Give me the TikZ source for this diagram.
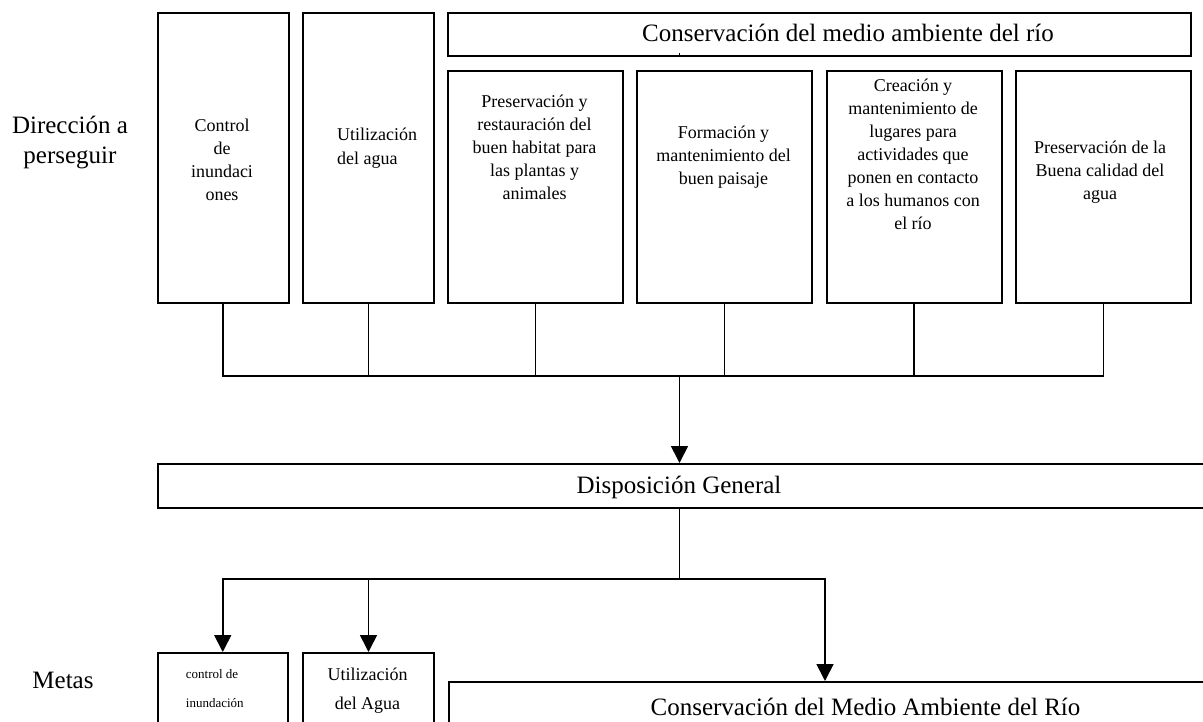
\documentclass[tikz,border=0pt]{standalone}
\usepackage{fontspec}
\setmainfont{Liberation Serif}
\usetikzlibrary{arrows.meta}

\begin{document}
\begin{tikzpicture}[x=1pt,y=-1pt,
  box/.style={draw,line width=2pt,rectangle,inner sep=0pt,anchor=north west},
  conn/.style={line width=1.7pt,line join=miter},
  arr/.style={conn,-{Triangle[width=17pt,length=17pt]}},
  boxtext/.style={inner sep=0pt,align=center,font=\fontsize{18}{23}\selectfont,
    execute at begin node=\strut,execute at end node=\strut},
  big/.style={inner sep=0pt,font=\fontsize{25}{30}\selectfont},
]
\useasboundingbox (0,0) rectangle (1203,722);
\clip (0,0) rectangle (1203,722);

% upper row: directions to pursue
\node[box,minimum width=131pt,minimum height=290.5pt] (ctrl) at (156.5,12) {};
\node[box,minimum width=131pt,minimum height=290.5pt] (agua) at (302,12) {};
\node[box,minimum width=743pt,minimum height=43pt] (banner) at (447,12) {};
\node[box,minimum width=175pt,minimum height=232.5pt] (pres) at (447,70) {};
\node[box,minimum width=175pt,minimum height=232.5pt] (form) at (636,70) {};
\node[box,minimum width=175pt,minimum height=232.5pt] (crea) at (825.5,70) {};
\node[box,minimum width=175pt,minimum height=232.5pt] (cal) at (1015,70) {};

% general arrangement
\node[box,minimum width=1060pt,minimum height=43.5pt] (disp) at (156.5,463) {};

% lower row: goals
\node[box,minimum width=130.5pt,minimum height=100pt] (mctrl) at (156.5,652) {};
\node[box,minimum width=131pt,minimum height=100pt] (magua) at (302,652) {};
\node[box,minimum width=836pt,minimum height=80pt] (mcons) at (447.5,681) {};

% collecting bus under the upper row
\coordinate (bus) at (679.5,376);
\draw[conn] (ctrl.south) -- (ctrl.south |- bus) -- (cal.south |- bus) -- (cal.south);
\foreach \b in {agua,pres,form,crea}
  \draw[conn] (\b.south) -- (\b.south |- bus);
\draw[arr] (bus) -- (bus |- disp.north);
\draw[conn] (banner.south -| bus) -- ++(0,-3.5);

% distribution towards the goals
\coordinate (split) at (679.5,579);
\coordinate (drop) at (825,579);
\draw[conn] (bus |- disp.south) -- (split);
\draw[arr] (split) -- (mctrl.north |- split) -- (mctrl.north);
\draw[arr] (magua.north |- split) -- (magua.north);
\draw[arr] (split) -- (drop) -- (drop |- mcons.north);

% labels
\node[big,align=center,execute at begin node=\strut,execute at end node=\strut]
  (ldir) at (70,144) {Dirección a\\perseguir};
\node[big,anchor=base] (lmetas) at (63,688) {Metas};

% texts of the upper row
\node[boxtext] (tctrl) at (222,163) {Control\\de\\inundaci\\ones};
\node[boxtext,align=left,anchor=west,font=\fontsize{18}{24}\selectfont]
  (tagua) at (337,150) {Utilización\\del agua};
\node[big,anchor=base] (tbanner) at (848,42) {Conservación del medio ambiente del río};
\node[boxtext] (tpres) at (534.5,151)
  {Preservación y\\restauración del\\buen habitat para\\las plantas y\\animales};
\node[boxtext] (tform) at (723.5,159) {Formación y\\mantenimiento del\\buen paisaje};
\node[boxtext] (tcrea) at (913,158)
  {Creación y\\mantenimiento de\\lugares para\\actividades que\\ponen en contacto\\a los humanos con\\el río};
\node[boxtext] (tcal) at (1100,174) {Preservación de la\\Buena calidad del\\agua};

% middle and lower texts
\node[big,anchor=base] (tdisp) at (679,493) {Disposición General};
\node[boxtext,align=left,anchor=west,font=\fontsize{13}{29}\selectfont]
  (tmctrl) at (185.7,692.7) {control de\\inundación};
\node[boxtext,font=\fontsize{18}{29}\selectfont] (tmagua) at (367.5,692.7) {Utilización\\del Agua};
\node[big,anchor=base] (tmcons) at (865.5,715) {Conservación del Medio Ambiente del Río};
\end{tikzpicture}
\end{document}
